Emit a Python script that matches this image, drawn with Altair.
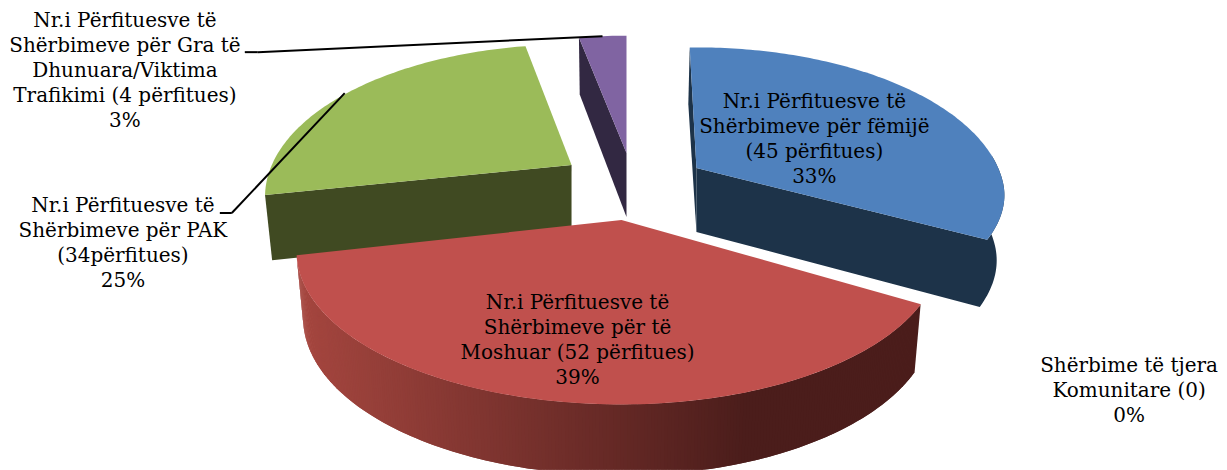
import math
import altair as alt

# --- chart values ---
names = ["Fëmijë", "Të moshuar", "PAK", "Gra të dhunuara", "Të tjera"]
beneficiaries = [45, 52, 34, 4, 0]
top_colors = ["#4f81bd", "#c0504d", "#9bbb59", "#8064a2", "#4bacc6"]
wall_colors = ["#1d3349", "#4b1d1b", "#404a22", "#322842", "#1d3349"]
labels = [
    "Nr.i Përfituesve të\nShërbimeve për fëmijë\n(45 përfitues)\n33%",
    "Nr.i Përfituesve të\nShërbimeve për të\nMoshuar (52 përfitues)\n39%",
    "Nr.i Përfituesve të\nShërbimeve për PAK\n(34përfitues)\n25%",
    "Nr.i Përfituesve të\nShërbimeve për Gra të\nDhunuara/Viktima\nTrafikimi (4 përfitues)\n3%",
    "Shërbime të tjera\nKomunitare (0)\n0%",
]

# --- layout of the 3-D view (page pixels) ---
apex = [(697, 168), (622, 220), (572, 165), (627, 153), (622, 185)]
rx_left = [310, 318, 300, 310, 310]
rx_right = [302, 312, 310, 310, 310]
ry = [146, 146, 146, 142, 146]
nudge_start = [0.5, 3, 2, 2, 2]
nudge_end = [-1.5, 0, 2, 2, 2]
K = 0.209
CX = 620
ROTATION = -2
label_pos = [(815, 102), (578, 303), (123, 206), (125, 21), (1130, 366)]
FONT = "DejaVu Serif"
FONT_SIZE = 20
LINE_HEIGHT = 25


def point(i, deg, bottom=False):
    a = math.radians(deg)
    u, v = math.sin(a), math.cos(a)
    d = 1 + K * v
    rx = rx_right[i] if u >= 0 else rx_left[i]
    if i == 0 and deg > 95:
        rx *= 1 - 0.025 * ((deg - 95) / 22) ** 2  # rim flattens towards the blue corner
    x = apex[i][0] + rx * u / d
    y = apex[i][1] - ry[i] * v / d
    if bottom:
        x = CX + (x - CX) * 0.98
        y = y + 64 - 7 * v
    return [round(x, 2), round(y, 2)]


def apex_pt(i, bottom=False):
    x, y = apex[i]
    return [x, y + 64] if bottom else [x, y]


def poly(coords, fill):
    ring = coords + [coords[0]]
    return {
        "type": "Feature",
        "properties": {"fill": fill},
        "geometry": {"type": "Polygon", "coordinates": [ring]},
    }


def mix(c1, c2, t):
    t = max(0.0, min(1.0, t))
    a = [int(c1[j:j + 2], 16) for j in (1, 3, 5)]
    b = [int(c2[j:j + 2], 16) for j in (1, 3, 5)]
    return "#%02x%02x%02x" % tuple(round(p + (q - p) * t) for p, q in zip(a, b))


total = sum(beneficiaries)
angles = []
start = ROTATION
for val, n0, n1 in zip(beneficiaries, nudge_start, nudge_end):
    sweep = val / total * 360
    angles.append((start + n0, start + sweep + n1))
    start += sweep


def rim(i, a0, a1, bottom=False, step=1.0):
    count = max(2, int(abs(a1 - a0) / step))
    return [point(i, a0 + (a1 - a0) * j / count, bottom=bottom) for j in range(count + 1)]


features = []

# purple: wall on its start edge, then top
i = 3
a0, a1 = angles[i]
features.append(poly([point(i, a0), apex_pt(i), apex_pt(i, True), point(i, a0, bottom=True)], wall_colors[i]))
features.append(poly([apex_pt(i)] + rim(i, a0, a1), top_colors[i]))

# green: wall on its start edge, then top
i = 2
a0, a1 = angles[i]
features.append(poly([apex_pt(i), point(i, a0), point(i, a0, bottom=True), apex_pt(i, True)], wall_colors[i]))
features.append(poly([apex_pt(i)] + rim(i, a0, a1), top_colors[i]))

# blue: sliver on the start edge, joined cut and outer wall, top
i = 0
a0, a1 = angles[i]
features.append(poly([point(i, a0), apex_pt(i), apex_pt(i, True), point(i, a0, bottom=True)], wall_colors[i]))
features.append(poly([apex_pt(i)] + rim(i, a1, 85) + rim(i, 85, a1, bottom=True) + [apex_pt(i, True)], wall_colors[i]))
features.append(poly([apex_pt(i)] + rim(i, a0, a1), top_colors[i]))

# red: shaded outer wall (each strip overlaps the next one), then top
i = 1
a0, a1 = angles[i]
STEP = 0.5
deg = a1 - STEP
while deg >= a0 - 1e-6:
    pass_to = min(deg + 2 * STEP, a1)
    q = [point(i, deg), point(i, pass_to), point(i, pass_to, bottom=True), point(i, deg, bottom=True)]
    t = (750 - point(i, deg + STEP / 2)[0]) / (750 - 300)
    features.append(poly(q, mix("#4b1d1b", "#a5463f", t)))
    deg -= STEP
features.append(poly([apex_pt(i)] + rim(i, a0, a1), top_colors[i]))

shapes = (
    alt.Chart(alt.Data(values=features))
    .mark_geoshape(strokeWidth=0)
    .encode(fill=alt.Fill("properties.fill:N", scale=None, legend=None))
    .project(type="identity", scale=1, translate=[-8, -8])
)

layers = [shapes]

# leader lines (page pixels)
leaders = [
    ((245, 52), (258, 52)),
    ((258, 52), (603, 36)),
    ((220, 213), (232, 213)),
    ((232, 213), (345, 93)),
]
for (x0, y0), (x1, y1) in leaders:
    layers.append(
        alt.Chart(alt.Data(values=[{"k": 1}]))
        .mark_rule(color="black", strokeWidth=2)
        .encode(x=alt.value(x0 - 8), y=alt.value(y0 - 8), x2=alt.value(x1 - 8), y2=alt.value(y1 - 8))
    )

for text, (x, y) in zip(labels, label_pos):
    layers.append(
        alt.Chart(alt.Data(values=[{"label": text}]))
        .mark_text(
            font=FONT, fontSize=FONT_SIZE, color="black", align="center",
            baseline="middle", lineBreak="\n", lineHeight=LINE_HEIGHT,
        )
        .encode(x=alt.value(x - 8), y=alt.value(y - 8), text="label:N")
    )

chart = (
    alt.layer(*layers)
    .properties(width=1211, height=462, padding=0, background="white")
    .configure_view(stroke=None)
)
chart.save("out.html", embed_options={"renderer": "svg", "actions": False})
